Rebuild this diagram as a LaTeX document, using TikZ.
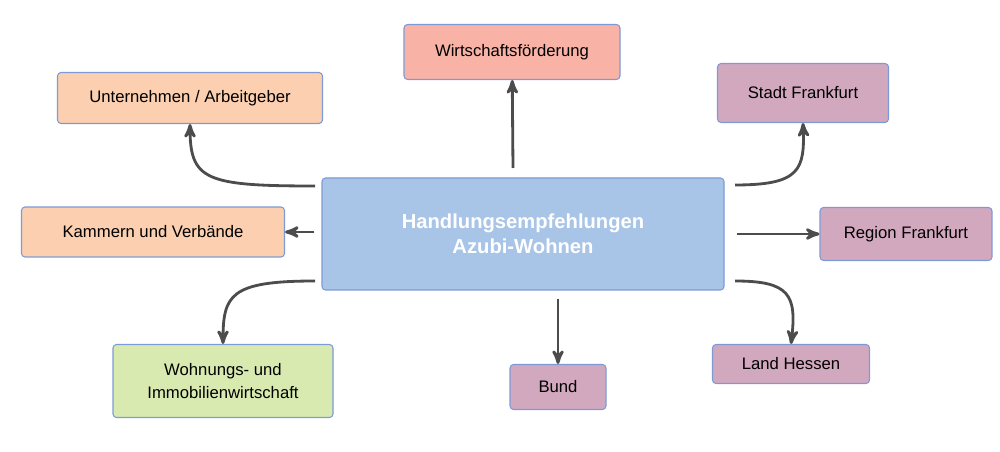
\documentclass[tikz,border=0pt]{standalone}
\usepackage{fontspec}
\setmainfont{Liberation Sans}
\usetikzlibrary{arrows}
\definecolor{peach}{HTML}{FBCFAF}
\definecolor{salmon}{HTML}{F8B2A6}
\definecolor{mauve}{HTML}{D2A8BE}
\definecolor{lgreen}{HTML}{D9EAB0}
\definecolor{cblue}{HTML}{A8C4E6}
\definecolor{edgeblue}{HTML}{7C9BD6}
\begin{document}
\begin{tikzpicture}[x=0.02cm,y=-0.02cm,>=stealth',
                    line width=1.6pt,draw=black!70]

  \tikzstyle{box}=[rectangle,rounded corners=2pt,draw=edgeblue,line width=0.6pt,
                   align=center,font=\fontsize{9.5}{13}\selectfont,inner sep=0pt]
  \tikzstyle{link}=[->,draw=black!70,line width=1.6pt]

  \useasboundingbox (0,0) rectangle (1000,452);

  \node[box,fill=cblue,minimum width=402*0.02cm,minimum height=112*0.02cm,
        text=white,font=\bfseries\fontsize{11.5}{14}\selectfont] (HA) at (523,234)
        {Handlungsempfehlungen\\Azubi-Wohnen};
  \node[box,fill=salmon,minimum width=216*0.02cm,minimum height=55*0.02cm] (WF) at (512,52) {Wirtschaftsförderung};
  \node[box,fill=peach,minimum width=265*0.02cm,minimum height=51*0.02cm] (UA) at (190,98) {Unternehmen / Arbeitgeber};
  \node[box,fill=mauve,minimum width=171*0.02cm,minimum height=59*0.02cm] (SF) at (803,93) {Stadt Frankfurt};
  \node[box,fill=peach,minimum width=263*0.02cm,minimum height=50*0.02cm] (KV) at (153,232) {Kammern und Verbände};
  \node[box,fill=mauve,minimum width=172*0.02cm,minimum height=53*0.02cm] (RF) at (906,234) {Region Frankfurt};
  \node[box,fill=lgreen,minimum width=220*0.02cm,minimum height=73*0.02cm] (WI) at (223,381) {Wohnungs- und\\Immobilienwirtschaft};
  \node[box,fill=mauve,minimum width=96*0.02cm,minimum height=45*0.02cm] (BU) at (558,387) {Bund};
  \node[box,fill=mauve,minimum width=157*0.02cm,minimum height=39*0.02cm] (LH) at (791,364) {Land Hessen};

  % start points of the connectors
  \coordinate (sUA) at (315,186);
  \coordinate (sSF) at (735,185);
  \coordinate (sWI) at (315,281);
  \coordinate (sLH) at (735,281);

  \draw[link] (513,168) -- (WF);
  \draw[link] (sUA) .. controls (205,186) and (190,180) .. (UA.south);
  \draw[link] (sSF) .. controls (800,185) and (805,170) .. (SF.south);
  \draw[link] (HA.west |- KV) ++(-7,0) -- (KV);
  \draw[link] (HA.east |- RF) ++(12,0) -- (RF);
  \draw[link] (sWI) .. controls (230,281) and (223,295) .. (WI.north);
  \draw[link] (HA.south -| BU) ++(0,8) -- (BU);
  \draw[link] (sLH) .. controls (790,281) and (797,295) .. (LH.north);

\end{tikzpicture}
\end{document}
